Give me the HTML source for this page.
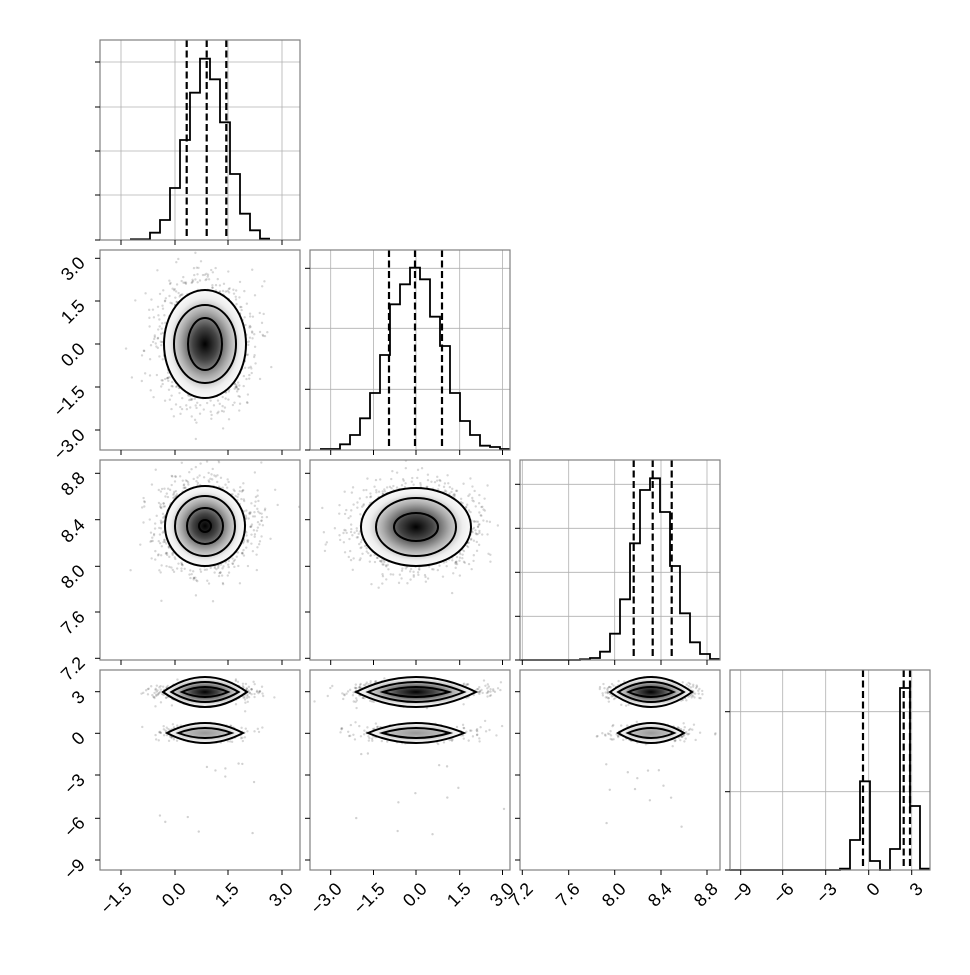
<!DOCTYPE html>
<html><head><meta charset="utf-8"><style>
html,body{margin:0;padding:0;background:#fff;}
svg text{font-family:"Liberation Sans","DejaVu Sans",sans-serif;font-size:18px;fill:#000;}
</style></head><body>
<svg id="s" width="970" height="970" xmlns="http://www.w3.org/2000/svg">
<defs>
<radialGradient id="g" cx="0.5" cy="0.5" r="0.5">
<stop offset="0" stop-color="#000"/><stop offset="0.3" stop-color="#444"/><stop offset="0.6" stop-color="#aaa"/><stop offset="0.85" stop-color="#eee"/><stop offset="1" stop-color="#fafafa"/>
</radialGradient>
<radialGradient id="g2" cx="0.5" cy="0.5" r="0.5">
<stop offset="0" stop-color="#999"/><stop offset="0.5" stop-color="#bbb"/><stop offset="0.8" stop-color="#eee"/><stop offset="1" stop-color="#fafafa"/>
</radialGradient>
<clipPath id="c10"><rect x="100" y="250" width="200" height="200"/></clipPath>
<clipPath id="c20"><rect x="100" y="460" width="200" height="200"/></clipPath>
<clipPath id="c21"><rect x="310" y="460" width="200" height="200"/></clipPath>
<clipPath id="c30"><rect x="100" y="670" width="200" height="200"/></clipPath>
<clipPath id="c31"><rect x="310" y="670" width="200" height="200"/></clipPath>
<clipPath id="c32"><rect x="520" y="670" width="200" height="200"/></clipPath>
</defs>
<g id="content"></g>
<g id="labels" font-size="18">
<text text-anchor="end" transform="translate(86,264) rotate(-45)">3.0</text>
<text text-anchor="end" transform="translate(86,307) rotate(-45)">1.5</text>
<text text-anchor="end" transform="translate(86,350) rotate(-45)">0.0</text>
<text text-anchor="end" transform="translate(86,393) rotate(-45)">−1.5</text>
<text text-anchor="end" transform="translate(86,436) rotate(-45)">−3.0</text>
<text text-anchor="end" transform="translate(86,479) rotate(-45)">8.8</text>
<text text-anchor="end" transform="translate(86,526) rotate(-45)">8.4</text>
<text text-anchor="end" transform="translate(86,572) rotate(-45)">8.0</text>
<text text-anchor="end" transform="translate(86,618) rotate(-45)">7.6</text>
<text text-anchor="end" transform="translate(86,664) rotate(-45)">7.2</text>
<text text-anchor="end" transform="translate(86,698) rotate(-45)">3</text>
<text text-anchor="end" transform="translate(86,739) rotate(-45)">0</text>
<text text-anchor="end" transform="translate(86,781) rotate(-45)">−3</text>
<text text-anchor="end" transform="translate(86,824) rotate(-45)">−6</text>
<text text-anchor="end" transform="translate(86,866) rotate(-45)">−9</text>
<text text-anchor="end" transform="translate(133,890) rotate(-45)">−1.5</text>
<text text-anchor="end" transform="translate(187,890) rotate(-45)">0.0</text>
<text text-anchor="end" transform="translate(240,890) rotate(-45)">1.5</text>
<text text-anchor="end" transform="translate(294,890) rotate(-45)">3.0</text>
<text text-anchor="end" transform="translate(343,890) rotate(-45)">−3.0</text>
<text text-anchor="end" transform="translate(386,890) rotate(-45)">−1.5</text>
<text text-anchor="end" transform="translate(428,890) rotate(-45)">0.0</text>
<text text-anchor="end" transform="translate(472,890) rotate(-45)">1.5</text>
<text text-anchor="end" transform="translate(515,890) rotate(-45)">3.0</text>
<text text-anchor="end" transform="translate(534,890) rotate(-45)">7.2</text>
<text text-anchor="end" transform="translate(581,890) rotate(-45)">7.6</text>
<text text-anchor="end" transform="translate(627,890) rotate(-45)">8.0</text>
<text text-anchor="end" transform="translate(673,890) rotate(-45)">8.4</text>
<text text-anchor="end" transform="translate(719,890) rotate(-45)">8.8</text>
<text text-anchor="end" transform="translate(753,890) rotate(-45)">−9</text>
<text text-anchor="end" transform="translate(795,890) rotate(-45)">−6</text>
<text text-anchor="end" transform="translate(838,890) rotate(-45)">−3</text>
<text text-anchor="end" transform="translate(881,890) rotate(-45)">0</text>
<text text-anchor="end" transform="translate(924,890) rotate(-45)">3</text>
</g>
</svg>
<script>
(function(){
var NS="http://www.w3.org/2000/svg",G=document.getElementById("content");
function el(t,a,p){var e=document.createElementNS(NS,t);for(var k in a)e.setAttribute(k,a[k]);(p||G).appendChild(e);return e;}
var X=[100,310,520,730],Y=[40,250,460,670];
var xt=[[121,175,228,282],[330.7,373.5,416,459.7,502.5],[522.3,568.7,614.7,661,707],[740.7,782.7,825.7,868.7,911.7]];
var yt2=[null,[258.3,301,344,387,430],[473.3,519.7,566.3,612,658.3],[691.7,733.3,775,818.3,860]];
var hy=[[62,107,151,195],[268.3,328.3,389.3],[484.3,528.3,572.3,616.3],[711.7,791.7]];
var seed=12345;function rnd(){seed=(seed*1103515245+12345)%2147483648;return seed/2147483648;}
function gauss(){var u=rnd()||1e-9,v=rnd();return Math.sqrt(-2*Math.log(u))*Math.cos(2*Math.PI*v);}
function lens(cx,cy,l,r,h1,h2,g){return el("path",{d:"M"+l+","+cy+" Q"+cx+","+(cy-2*h1)+" "+r+","+cy+" Q"+cx+","+(cy+2*h2)+" "+l+","+cy+"Z",fill:"none",stroke:"#000","stroke-width":2},g);}
function hist(ox,oy,edges,h){var d="M"+(ox+edges[0]/3)+","+(oy+h[0]/3);for(var i=0;i<h.length;i++){d+=" V"+(oy+h[i]/3)+" H"+(ox+edges[i+1]/3);}return d;}
function diag(i,gx,d,dash){var x0=X[i],y0=Y[i];
 gx.forEach(function(x){el("line",{x1:x,x2:x,y1:y0,y2:y0+200,stroke:"#b0b0b0","stroke-width":0.8});});
 hy[i].forEach(function(y){el("line",{x1:x0,x2:x0+200,y1:y,y2:y,stroke:"#b0b0b0","stroke-width":0.8});});
 el("path",{d:d,fill:"none",stroke:"#000","stroke-width":1.8});
 dash.forEach(function(x){el("line",{x1:x,x2:x,y1:y0,y2:y0+200,stroke:"#000","stroke-width":2.2,"stroke-dasharray":"7,3.5"});});
}
var e0=[120];for(var k=180;k<=540;k+=30)e0.push(k);
diag(0,xt[0],hist(90,30,e0,[628,608,570,474,330,188,86,148,277,432,551,601,626]),[186.7,206.7,226.3]);
var e1=[60];for(k=120;k<=630;k+=30)e1.push(k);
diag(1,xt[1],hist(300,245,e1,[612,598,570,520,444,330,178,118,68,103,215,303,444,528,570,602,606,612]),[389,415,442]);
var e2=[30];for(k=210;k<=630;k+=30)e2.push(k);
diag(2,xt[2],hist(510,450,e2,[630,628,624,605,551,448,280,120,85,186,348,490,577,612,627]),[633.7,652.7,671.7]);
diag(3,xt[3],hist(720,660,[30,360,390,420,450,480,510,540,570,600,630],[630,626,540,364,603,630,567,84,438,626]),[863,903.7,910]);
function scatter(g,cx,cy,sx,sy,n){for(var i=0;i<n;i++){el("circle",{cx:cx+gauss()*sx,cy:cy+gauss()*sy,r:1.2,fill:"rgba(0,0,0,0.16)"},g);}}
function blob(c,cx,cy,sx,sy,n,con){var g=el("g",{"clip-path":"url(#"+c+")"});scatter(g,cx,cy,sx,sy,n);
 var o=con[0];el("ellipse",{cx:cx,cy:cy,rx:o[0],ry:o[1],fill:"url(#g)"},g);
 con.forEach(function(q){el("ellipse",{cx:cx,cy:cy,rx:q[0],ry:q[1],fill:"none",stroke:"#000","stroke-width":2},g);});}
blob("c10",205,344,21,29,1800,[[41,54],[31,39],[17,26]]);
blob("c20",205,526,22,21,1800,[[40,40],[30,30],[18,18],[6,6]]);
blob("c21",416,527,30,20,1800,[[55,39],[40,29],[22,14]]);
function two(c,cx,sx,up,lo){var g=el("g",{"clip-path":"url(#"+c+")"});
 scatter(g,cx,692,sx,4.5,1100);scatter(g,cx,733,sx*0.9,4,500);
 for(var i=0;i<12;i++)el("circle",{cx:cx+gauss()*sx*1.5,cy:745+rnd()*90,r:1.2,fill:"rgba(0,0,0,0.18)"},g);
 var p=lens(cx,692,cx-up,cx+up,15,15,g);p.setAttribute("fill","url(#g)");
 lens(cx,692,cx-up*0.8,cx+up*0.8,10,10,g);lens(cx,692,cx-up*0.55,cx+up*0.55,5,5,g);
 var q=lens(cx,733,cx-lo,cx+lo,10,10,g);q.setAttribute("fill","url(#g2)");
 lens(cx,733,cx-lo*0.7,cx+lo*0.7,5,5,g);}
two("c30",205,21,42,38);two("c31",416,30,60,48);two("c32",651,20,41,33);
for(var r=0;r<4;r++)for(var c=0;c<=r;c++){var x0=X[c],y0=Y[r];
 el("rect",{x:x0,y:y0,width:200,height:200,fill:"none",stroke:"#808080","stroke-width":1.2});
 xt[c].forEach(function(x){el("line",{x1:x,x2:x,y1:y0+200,y2:y0+205,stroke:"#000","stroke-width":1});});
 var ys=(r==c)?hy[r]:yt2[r];ys.forEach(function(y){el("line",{x1:x0-5,x2:x0,y1:y,y2:y,stroke:"#000","stroke-width":1});});
 if(r==c){el("line",{x1:x0-5,x2:x0,y1:y0+200,y2:y0+200,stroke:"#000","stroke-width":1});}
}
})();
</script>
</body></html>
